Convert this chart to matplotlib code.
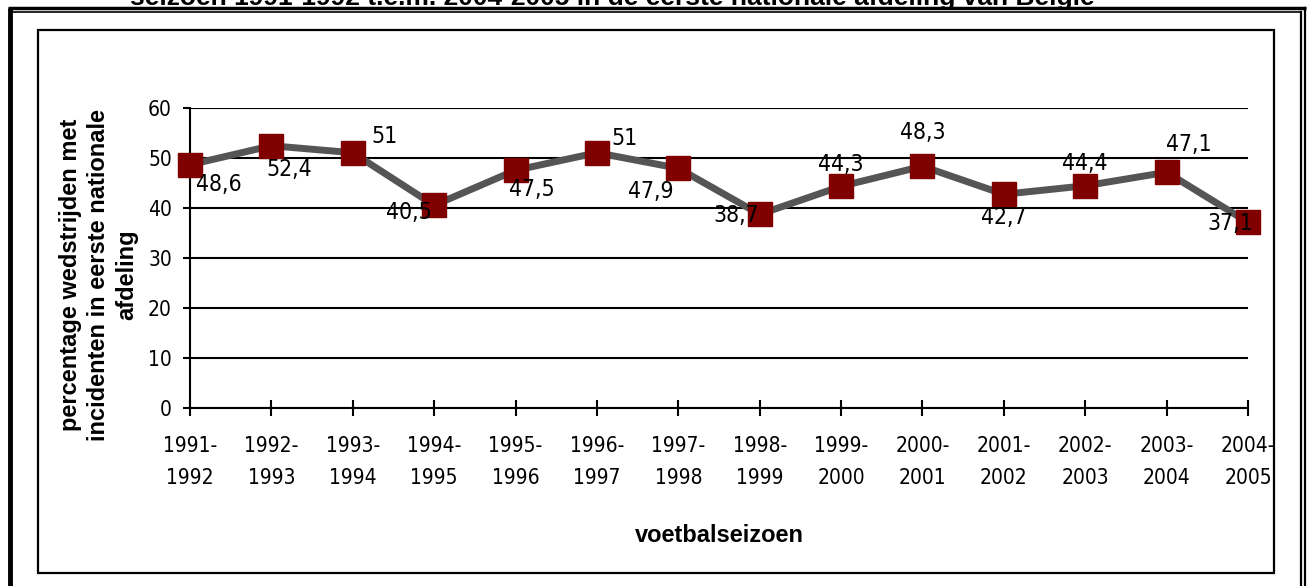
import matplotlib.pyplot as plt
from matplotlib.lines import Line2D
from matplotlib.patches import Rectangle

# data
seasons = ["1991-\n1992", "1992-\n1993", "1993-\n1994", "1994-\n1995", "1995-\n1996",
           "1996-\n1997", "1997-\n1998", "1998-\n1999", "1999-\n2000", "2000-\n2001",
           "2001-\n2002", "2002-\n2003", "2003-\n2004", "2004-\n2005"]
percentages = [48.6, 52.4, 51, 40.5, 47.5, 51, 47.9, 38.7, 44.3, 48.3, 42.7, 44.4, 47.1, 37.1]
value_labels = ["48,6", "52,4", "51", "40,5", "47,5", "51", "47,9", "38,7",
                "44,3", "48,3", "42,7", "44,4", "47,1", "37,1"]
y_ticks = [0, 10, 20, 30, 40, 50, 60]

# label offsets in points (dx, dy) relative to each marker
label_offsets = [(21, -14), (13, -17), (23, 12), (-18, -5), (12, -14), (20, 10), (-20, -17),
                 (-17, -1), (0, 16), (0, 24), (0, -17), (0, 16), (16, 20), (-13, -1)]

narrow = dict(family=["DejaVu Sans"], fontstretch="condensed")
bold = ["Liberation Sans", "DejaVu Sans"]

fig = plt.figure(figsize=(13.09, 5.86), dpi=100)
ax = fig.add_axes([190 / 1309, 178 / 586, 1058 / 1309, 300.3 / 586])

x = list(range(len(seasons)))
ax.plot(x, percentages, color="#555555", lw=5, zorder=3, clip_on=False)
ax.plot(x, percentages, ls="none", marker="s", ms=17, color="#800000",
        mec="#800000", zorder=4, clip_on=False)

for xi, yi, txt, (dx, dy) in zip(x, percentages, value_labels, label_offsets):
    ax.annotate(txt, (xi, yi), xytext=(dx, dy), textcoords="offset points",
                ha="center", va="center", fontsize=16.5, zorder=5, **narrow)

ax.set_xlim(0, len(seasons) - 1)
ax.set_ylim(0, 60)
ax.set_yticks(y_ticks)
ax.set_yticklabels([str(v) for v in y_ticks], fontsize=15, **narrow)
ax.set_xticks(x)
ax.set_xticklabels(seasons, fontsize=15, linespacing=1.75, **narrow)
ax.tick_params(axis="y", direction="out", length=5, width=1.5, pad=8)
ax.tick_params(axis="x", direction="inout", length=12, width=1.5, pad=14)

ax.yaxis.grid(True, color="black", lw=1.5)
ax.set_axisbelow(True)
for s in ["top", "right"]:
    ax.spines[s].set_visible(False)
ax.spines["left"].set_linewidth(1.5)
ax.spines["bottom"].set_linewidth(1.5)

ax.set_xlabel("voetbalseizoen", fontsize=17, fontweight="bold", family=bold)
ax.xaxis.set_label_coords(0.5, -0.385)
ax.set_ylabel("percentage wedstrijden met\nincidenten in eerste nationale\nafdeling",
              fontsize=17, fontweight="bold", family=bold, linespacing=1.27)
ax.yaxis.set_label_coords(-0.049, 0.443)

# frames around the chart
W, H = 1309, 586
fig.patches.append(Rectangle((38 / W, 1 - 573 / H), (1274 - 38) / W, (573 - 30) / H,
                             transform=fig.transFigure, fill=False, ec="black", lw=1.6))
fig.lines.append(Line2D([10 / W, 10 / W], [0, 1 - 8 / H], transform=fig.transFigure,
                        color="black", lw=3.5, solid_capstyle="butt"))
fig.lines.append(Line2D([8 / W, 1306 / W], [1 - 8 / H, 1 - 8 / H], transform=fig.transFigure,
                        color="black", lw=2.5, solid_capstyle="butt"))
fig.lines.append(Line2D([12 / W, 1300 / W], [1 - 11.5 / H, 1 - 11.5 / H],
                        transform=fig.transFigure, color="black", lw=1.2))
fig.lines.append(Line2D([1301 / W, 1301 / W], [0, 1 - 11.5 / H], transform=fig.transFigure,
                        color="black", lw=1.6))
fig.lines.append(Line2D([1305 / W, 1305 / W], [0, 1 - 8 / H], transform=fig.transFigure,
                        color="black", lw=1.6))

# title, mostly cut off at the top edge as in the source
fig.text(612 / W, 1 - 5 / H,
         "seizoen 1991-1992 t.e.m. 2004-2005 in de eerste nationale afdeling van België",
         ha="center", va="baseline", fontsize=19, fontweight="bold", family=bold)

fig.savefig("out.png", dpi=100)
